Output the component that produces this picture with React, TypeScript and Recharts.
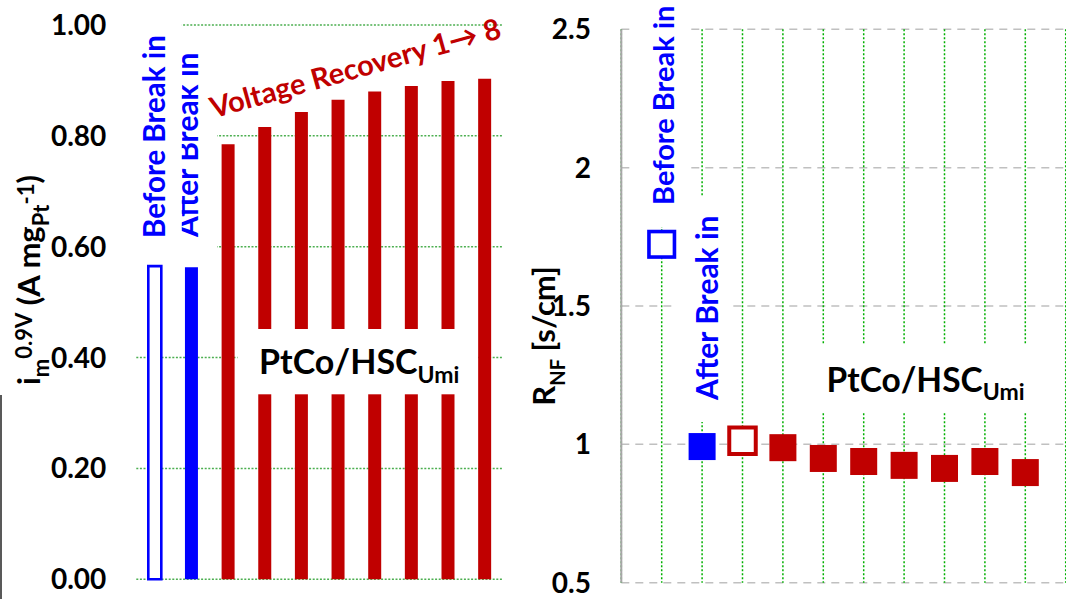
import React from "react";
import {
  BarChart,
  Bar,
  Cell,
  XAxis,
  YAxis,
  CartesianGrid,
  ScatterChart,
  Scatter,
} from "recharts";

// test sequence: before / after break-in, then voltage recovery 1 -> 8
const stages = [
  "Before Break in",
  "After Break in",
  "VR 1",
  "VR 2",
  "VR 3",
  "VR 4",
  "VR 5",
  "VR 6",
  "VR 7",
  "VR 8",
];
// i_m at 0.9 V (A/mg Pt)
const massActivity = [0.565, 0.563, 0.785, 0.816, 0.843, 0.865, 0.88, 0.89, 0.899, 0.903];
// R_NF (s/cm)
const rnfValues = [1.723, 0.992, 1.013, 0.988, 0.949, 0.938, 0.924, 0.913, 0.938, 0.898];

const imTicks = [0, 0.2, 0.4, 0.6, 0.8, 1.0];
const rnfTicks = [0.5, 1, 1.5, 2, 2.5];
const slotTicks = [1, 2, 3, 4, 5, 6, 7, 8, 9, 10, 11];

const BLUE = "#0000ff";
const RED = "#c00000";
const FONT = "Lato, 'Open Sans', sans-serif";

const barData = stages.map((s, i) => ({ stage: s, im: massActivity[i] }));
const pointData = stages.map((s, i) => ({ stage: s, slot: i + 1, rnf: rnfValues[i] }));

const tickStyle = { fontFamily: FONT, fontSize: 28, fontWeight: 700, fill: "#000" };

const square =
  (size: number, fill: string, stroke: string, sw: number) =>
  (props: any) => {
    const { cx, cy } = props;
    return (
      <rect
        x={cx - size / 2}
        y={cy - size / 2}
        width={size}
        height={size}
        fill={fill}
        stroke={stroke}
        strokeWidth={sw}
      />
    );
  };

function Vertical({ x, y, children, fill, size = 30 }: any) {
  // text read bottom-to-top, baseline on the right side
  return (
    <text
      transform={`translate(${x},${y}) rotate(-90)`}
      fontFamily={FONT}
      fontWeight={700}
      fontSize={size}
      fill={fill}
    >
      {children}
    </text>
  );
}

function Overlay() {
  return (
    <svg
      width={1066}
      height={599}
      style={{ position: "absolute", left: 0, top: 0, pointerEvents: "none" }}
    >
      {/* left panel */}
      <line x1={1} y1={395} x2={1} y2={599} stroke="#222" strokeWidth={1.5} />
      <text
        transform="translate(40,280) rotate(-90)"
        textAnchor="middle"
        fontFamily={FONT}
        fontWeight={700}
        fontSize={31}
        fill="#000"
      >
        <tspan>i</tspan>
        <tspan fontSize={22} dy={9}>m</tspan>
        <tspan fontSize={22} dy={-17}>0.9V</tspan>
        <tspan dy={8}> (A mg</tspan>
        <tspan fontSize={22} dy={9}>Pt</tspan>
        <tspan fontSize={22} dy={-15}>-1</tspan>
        <tspan dy={6}>)</tspan>
      </text>

      <rect x={170} y={35} width={47} height={223} fill="#fff" />
      <Vertical x={198} y={237} fill={BLUE}>After Break in</Vertical>
      <rect x={136} y={0} width={45.8} height={258} fill="#fff" />
      <Vertical x={164.5} y={238} fill={BLUE} size={29.5}>Before Break in</Vertical>

      <text
        transform="translate(358,78) rotate(-15.6)"
        textAnchor="middle"
        fontFamily={FONT}
        fontWeight={700}
        fontSize={29}
        fill={RED}
      >
        Voltage Recovery 1→ 8
      </text>

      <rect x={237.6} y={329} width={239.4} height={65.3} fill="#fff" />
      <text x={259} y={374} fontFamily={FONT} fontWeight={700} fontSize={34} fill="#000">
        PtCo/HSC
        <tspan fontSize={23} dy={8.7}>Umi</tspan>
      </text>

      {/* right panel */}
      <text
        transform="translate(555,336) rotate(-90)"
        textAnchor="middle"
        fontFamily={FONT}
        fontWeight={700}
        fontSize={31}
        fill="#000"
      >
        <tspan>R</tspan>
        <tspan fontSize={20} dy={10}>NF</tspan>
        <tspan dy={-10}> [s/cm]</tspan>
      </text>

      <rect x={633} y={0} width={57} height={227} fill="#fff" />
      <Vertical x={673.6} y={205} fill={BLUE} size={29}>Before Break in</Vertical>
      <rect x={677} y={197} width={56} height={225} fill="#fff" />
      <Vertical x={718} y={400} fill={BLUE}>After Break in</Vertical>

      <rect x={805} y={345} width={240} height={68} fill="#fff" />
      <text x={826.5} y={391.7} fontFamily={FONT} fontWeight={700} fontSize={33.5} fill="#000">
        PtCo/HSC
        <tspan fontSize={23} dy={8.7}>Umi</tspan>
      </text>
    </svg>
  );
}

export default function App() {
  return (
    <div
      style={{
        position: "absolute",
        left: 0,
        top: 0,
        width: 1066,
        height: 599,
        background: "#fff",
        overflow: "hidden",
      }}
    >
      <div style={{ position: "absolute", left: 0, top: 0 }}>
        <BarChart
          width={520}
          height={599}
          data={barData}
          margin={{ top: 25, right: 17.2, left: 36.3, bottom: 19.7 }}
        >
          <CartesianGrid
            vertical={false}
            stroke="#4caf50"
            strokeDasharray="2 1.6"
            strokeWidth={1.5}
          />
          <XAxis dataKey="stage" hide />
          <YAxis
            width={100}
            domain={[0, 1]}
            ticks={imTicks}
            tickFormatter={(v: number) => v.toFixed(2)}
            axisLine={false}
            tickLine={false}
            tickSize={0}
            tickMargin={30}
            tick={tickStyle}
          />
          <Bar dataKey="im" barSize={13} isAnimationActive={false}>
            {barData.map((d, i) => (
              <Cell
                key={d.stage}
                fill={i === 0 ? "#fff" : i === 1 ? BLUE : RED}
                stroke={i === 0 ? BLUE : "none"}
                strokeWidth={i === 0 ? 2.6 : 0}
              />
            ))}
          </Bar>
        </BarChart>
      </div>

      <div style={{ position: "absolute", left: 500, top: 0 }}>
        <ScatterChart
          width={566}
          height={599}
          margin={{ top: 29.3, right: 0.3, left: 61.3, bottom: 16.3 }}
        >
          <CartesianGrid
            vertical={false}
            stroke="#c0c0c0"
            strokeDasharray="8 6"
            strokeWidth={1.5}
          />
          <CartesianGrid
            horizontal={false}
            stroke="#00b000"
            strokeDasharray="2 2"
            strokeWidth={1.5}
          />
          <XAxis type="number" dataKey="slot" domain={[0, 11]} ticks={slotTicks} hide />
          <YAxis
            type="number"
            dataKey="rnf"
            width={60}
            domain={[0.5, 2.5]}
            ticks={rnfTicks}
            tickFormatter={(v: number) => String(v)}
            axisLine={{ stroke: "#a6a6a6", strokeWidth: 2 }}
            tickLine={false}
            tickSize={0}
            tickMargin={30.4}
            tick={tickStyle}
          />
          <Scatter
            data={pointData.slice(0, 1)}
            shape={square(25.5, "#fff", BLUE, 3.6)}
            isAnimationActive={false}
          />
          <Scatter
            data={pointData.slice(1, 2)}
            shape={square(27, BLUE, "none", 0)}
            isAnimationActive={false}
          />
          <Scatter
            data={pointData.slice(2, 3)}
            shape={square(26.5, "#fff", RED, 4)}
            isAnimationActive={false}
          />
          <Scatter
            data={pointData.slice(3)}
            shape={square(27, RED, "none", 0)}
            isAnimationActive={false}
          />
        </ScatterChart>
      </div>

      <Overlay />
    </div>
  );
}
